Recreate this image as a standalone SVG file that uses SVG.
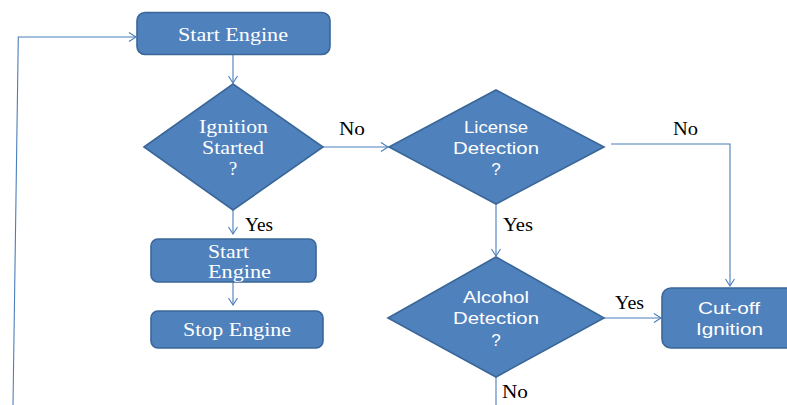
<svg xmlns="http://www.w3.org/2000/svg" width="787" height="405" viewBox="0 0 787 405">
<defs>
<marker id="arr" markerUnits="userSpaceOnUse" markerWidth="10" markerHeight="12" refX="8" refY="5" orient="auto">
<path d="M1,0.5 L8,5 L1,9.5" fill="none" stroke="#4A7EBB" stroke-width="1.1"/>
</marker>
<style>
.shape{fill:#4F81BD;stroke:#3A6798;stroke-width:1.6}
.conn{fill:none;stroke:#4A7EBB;stroke-width:1.1}
.serif{font-family:"Liberation Serif","Times New Roman",serif;fill:#fff;font-size:19px}
.sans{font-family:"Liberation Sans",Arial,sans-serif;fill:#fff;font-size:17px}
.lbl{font-family:"Liberation Serif","Times New Roman",serif;fill:#000;font-size:18px}
</style>
</defs>
<rect width="787" height="405" fill="#fff"/>
<g id="connectors">
<path class="conn" d="M13,405 L18.3,37 L136,37" marker-end="url(#arr)"/>
<path class="conn" d="M233,54 L233,83" marker-end="url(#arr)"/>
<path class="conn" d="M323,147 L388,147" marker-end="url(#arr)"/>
<path class="conn" d="M233,210 L233,234" marker-end="url(#arr)"/>
<path class="conn" d="M233,282 L233,305" marker-end="url(#arr)"/>
<path class="conn" d="M496,204 L496,256" marker-end="url(#arr)"/>
<path class="conn" d="M611,144 L730,144 L730,286" marker-end="url(#arr)"/>
<path class="conn" d="M604,318 L661,318" marker-end="url(#arr)"/>
<path class="conn" d="M496,377 L496,405"/>
<text class="lbl" x="339" y="135" textLength="26" lengthAdjust="spacingAndGlyphs">No</text>
<text class="lbl" x="673" y="135" textLength="25" lengthAdjust="spacingAndGlyphs">No</text>
<text class="lbl" x="245" y="231" textLength="28" lengthAdjust="spacingAndGlyphs">Yes</text>
<text class="lbl" x="503" y="231" textLength="30" lengthAdjust="spacingAndGlyphs">Yes</text>
<text class="lbl" x="615" y="309" textLength="29" lengthAdjust="spacingAndGlyphs">Yes</text>
<text class="lbl" x="502" y="398" textLength="26" lengthAdjust="spacingAndGlyphs">No</text>
</g>
<g id="start-engine">
<rect class="shape" x="137" y="12.5" width="193" height="42" rx="8"/>
<text class="serif" x="178" y="40.5" textLength="110" lengthAdjust="spacingAndGlyphs">Start Engine</text>
</g>
<g id="ignition-started">
<polygon class="shape" points="144,147 233,84 323,147 233,210"/>
<text class="serif" x="199" y="132.5" textLength="69" lengthAdjust="spacingAndGlyphs">Ignition</text>
<text class="serif" x="202" y="154" textLength="62" lengthAdjust="spacingAndGlyphs">Started</text>
<text class="serif" x="233" y="175" text-anchor="middle">?</text>
</g>
<g id="start-engine-2">
<rect class="shape" x="151" y="239" width="165" height="43" rx="7"/>
<text class="serif" x="208" y="257.5" textLength="41" lengthAdjust="spacingAndGlyphs">Start</text>
<text class="serif" x="208" y="278" textLength="63" lengthAdjust="spacingAndGlyphs">Engine</text>
</g>
<g id="stop-engine">
<rect class="shape" x="151" y="311" width="172" height="37" rx="7"/>
<text class="serif" x="183" y="336" textLength="108" lengthAdjust="spacingAndGlyphs">Stop Engine</text>
</g>
<g id="license-detection">
<polygon class="shape" points="389,147 496,90 604,147 496,204"/>
<text class="sans" x="464" y="133" textLength="64" lengthAdjust="spacingAndGlyphs">License</text>
<text class="sans" x="453" y="153.5" textLength="86" lengthAdjust="spacingAndGlyphs">Detection</text>
<text class="sans" x="496" y="175" text-anchor="middle">?</text>
</g>
<g id="alcohol-detection">
<polygon class="shape" points="388,318 496,257 604,318 496,377"/>
<text class="sans" x="463" y="302.5" textLength="66" lengthAdjust="spacingAndGlyphs">Alcohol</text>
<text class="sans" x="453" y="324" textLength="86" lengthAdjust="spacingAndGlyphs">Detection</text>
<text class="sans" x="496" y="345.5" text-anchor="middle">?</text>
</g>
<g id="cut-off-ignition">
<rect class="shape" x="662" y="288" width="136" height="60" rx="9"/>
<text class="sans" x="698" y="313.5" textLength="62" lengthAdjust="spacingAndGlyphs">Cut-off</text>
<text class="sans" x="696" y="335" textLength="67" lengthAdjust="spacingAndGlyphs">Ignition</text>
</g>
</svg>
